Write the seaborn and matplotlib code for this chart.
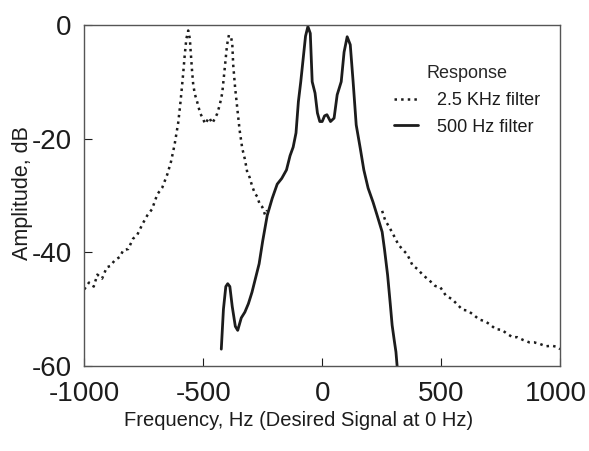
import matplotlib
matplotlib.use("Agg")
import matplotlib.pyplot as plt
import matplotlib.transforms as mtransforms
import seaborn as sns

# 2.5 KHz filter (dotted), left part
wide_left_hz = [-1000, -980, -960, -945, -925, -905, -891, -870, -850, -836, -815, -795,
                -777, -755, -735, -715, -693, -672, -651, -635, -620, -605, -597, -590,
                -584, -578, -571, -563, -556, -553, -547, -542, -535, -525, -513, -500,
                -492, -475, -462, -450, -441, -430, -420, -414, -408, -400, -392, -383,
                -378, -374, -366, -357, -347, -336, -325, -315, -305, -294, -283, -273,
                -262, -252, -240, -231]
wide_left_db = [-46.5, -45.3, -46.0, -43.9, -44.6, -42.6, -42.4, -41.3, -40.8, -39.6, -39.4, -37.6,
                -36.9, -35.0, -33.5, -32.4, -29.8, -28.6, -26.3, -24.0, -21.0, -17.2, -14.2, -11.2,
                -8.5, -5.5, -2.5, -1.0, -2.5, -4.5, -8.0, -10.5, -12.2, -13.6, -15.5, -16.6,
                -17.4, -16.3, -17.3, -16.4, -15.6, -14.0, -12.0, -9.5, -7.0, -3.6, -1.8, -2.2,
                -3.2, -7.0, -11.0, -14.6, -18.5, -21.7, -23.6, -25.9, -26.8, -28.4, -29.6, -30.2,
                -31.6, -32.0, -33.4, -32.6]

# 2.5 KHz filter (dotted), right part
wide_right_hz = [252, 265, 280, 298, 320, 340, 357, 380, 400, 424, 450, 475, 496, 520, 545,
                 567, 590, 610, 634, 660, 685, 706, 730, 755, 777, 800, 820, 845, 870, 890,
                 916, 940, 965, 987, 1000]
wide_right_db = [-32.7, -34.4, -35.4, -36.8, -38.6, -39.6, -40.3, -42.3, -42.9, -44.0, -44.9, -45.9,
                 -46.1, -47.6, -48.2, -49.1, -50.1, -50.2, -50.9, -51.8, -52.1, -52.7, -53.5, -53.6,
                 -54.3, -54.9, -54.9, -55.4, -55.8, -55.8, -56.1, -56.5, -56.4, -56.6, -57.0]

# 500 Hz filter (solid)
narrow_hz = [-424, -415, -405, -397, -388, -378, -365, -355, -340, -325, -310, -295, -280,
             -265, -250, -231, -210, -189, -170, -150, -135, -122, -110, -100, -90, -80, -70,
             -60, -50, -42, -30, -20, -10, 0, 10, 20, 35, 50, 63, 80, 92, 105, 118, 130, 143,
             160, 175, 193, 214, 231, 252, 262, 275, 286, 294, 303, 310, 315]
narrow_db = [-57.0, -50.0, -46.0, -45.5, -46.0, -49.5, -53.0, -53.7, -51.5, -50.5, -49.0, -47.0, -44.5,
             -42.0, -38.0, -33.5, -30.5, -28.0, -27.0, -25.5, -23.0, -21.5, -19.0, -13.5, -10.0, -6.0, -2.0,
             -0.3, -1.5, -10.0, -12.0, -15.5, -17.0, -17.0, -16.0, -15.8, -17.0, -16.4, -12.3, -10.0, -4.8,
             -2.1, -3.5, -10.0, -17.6, -21.7, -25.5, -28.7, -31.2, -33.5, -36.4, -39.5, -44.0, -49.0,
             -52.8, -55.5, -57.5, -60.0]

sns.set_style("ticks")
plt.rcParams["font.family"] = ["Liberation Sans", "DejaVu Sans"]
plt.rcParams["axes.unicode_minus"] = False
ink = "#1c1c1c"

fig = plt.figure(figsize=(5.89, 4.51), dpi=100)
ax = fig.add_axes([0.143, 0.188, 0.808, 0.757])

sns.lineplot(x=wide_left_hz, y=wide_left_db, ax=ax, color=ink, linestyle=":", lw=1.8,
             label="2.5 KHz filter", sort=False, estimator=None)
sns.lineplot(x=wide_right_hz, y=wide_right_db, ax=ax, color=ink, linestyle=":", lw=1.8,
             sort=False, estimator=None)
sns.lineplot(x=narrow_hz, y=narrow_db, ax=ax, color=ink, linestyle="-", lw=2.0,
             label="500 Hz filter", sort=False, estimator=None)

ax.set_xlim(-1000, 1000)
ax.set_ylim(-60, 0)
ax.set_xticks([-1000, -500, 0, 500, 1000])
ax.set_yticks([-60, -40, -20, 0])
ax.tick_params(direction="in", length=6, width=0.8, colors=ink, labelsize=20, pad=9)
ax.tick_params(axis="x", pad=11)
for s in ax.spines.values():
    s.set_visible(True)
    s.set_color("#555555")
    s.set_linewidth(1.0)

# nudge the last x tick label so it stays inside the canvas
last = ax.get_xticklabels()[-1]
last.set_transform(last.get_transform() + mtransforms.ScaledTranslation(-4 / 100, 0, fig.dpi_scale_trans))

ax.set_xlabel("Frequency, Hz (Desired Signal at 0 Hz)", fontsize=14.5, color=ink)
ax.set_ylabel("Amplitude, dB", fontsize=15.5, color=ink)
ax.xaxis.set_label_coords(0.45, -0.132)
ax.yaxis.set_label_coords(-0.108, 0.507)

leg = ax.legend(title="Response", loc="upper left", bbox_to_anchor=(0.617, 0.93),
                frameon=False, handlelength=1.3, handletextpad=1.1, labelspacing=0.55,
                fontsize=13, title_fontsize=13)
for t in leg.get_texts():
    t.set_color(ink)

fig.savefig("out.png", dpi=100)
